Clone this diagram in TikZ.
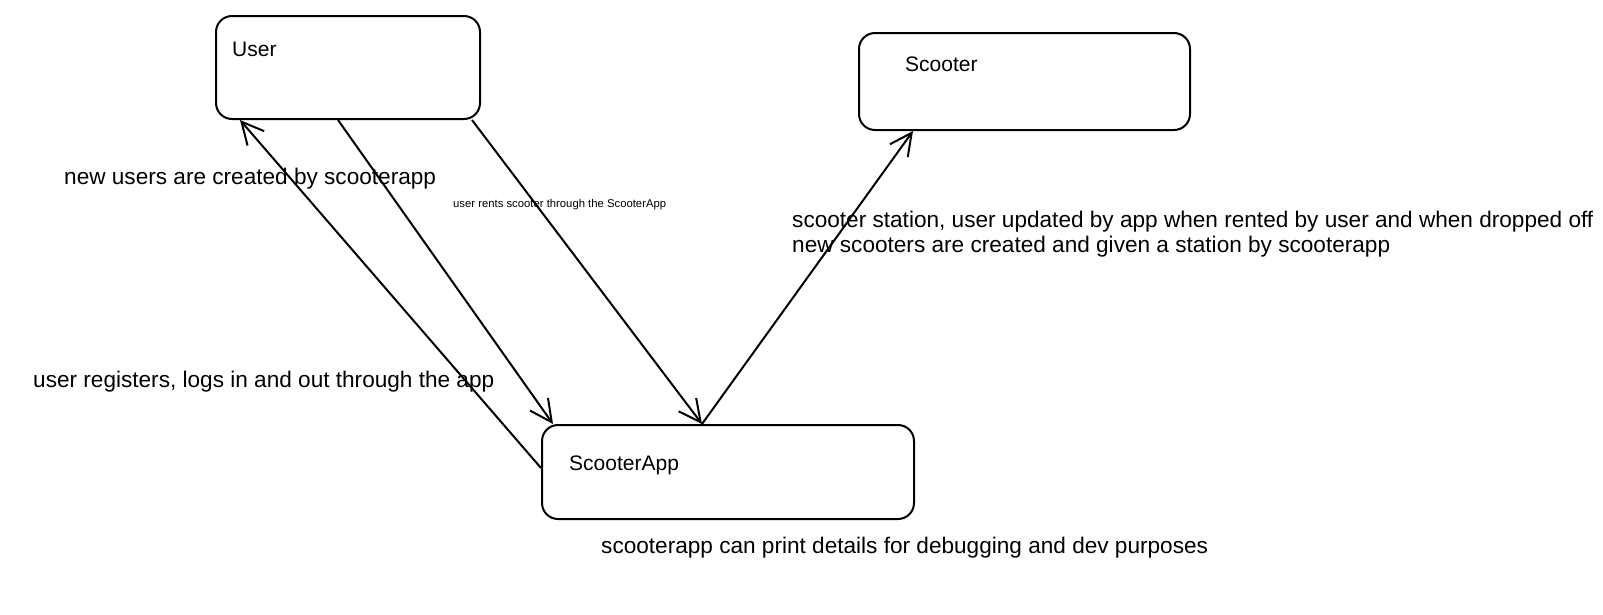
\documentclass[tikz,border=0pt]{standalone}
\usepackage{fontspec}
\setmainfont{Liberation Sans}
\usetikzlibrary{arrows.meta}
\tikzset{
  x=1pt, y=-1pt,
  box/.style={draw, line width=2pt, rounded corners=16pt, inner sep=0pt, anchor=north west},
  lbl/.style={anchor=west, inner sep=0pt, font=\fontsize{21}{25}\selectfont},
  note/.style={anchor=west, inner sep=0pt, font=\fontsize{22.6}{26}\selectfont},
  small/.style={anchor=west, inner sep=0pt, font=\fontsize{11.3}{13}\selectfont},
  conn/.style={line width=2pt, -{Straight Barb[length=22pt,width=22pt,line width=2pt]}},
}
\begin{document}
\begin{tikzpicture}
\useasboundingbox (0,0) rectangle (1603,614);
\node[box, minimum width=264pt, minimum height=103pt] (user) at (215,15) {};
\node[box, minimum width=331pt, minimum height=97pt] (scooter) at (858,32) {};
\node[box, minimum width=372pt, minimum height=94pt] (app) at (541,424) {};
\node[lbl] (tuser) at (232,49) {User};
\node[lbl] (tscooter) at (905,64) {Scooter};
\node[lbl] (tapp) at (569,465) {ScooterApp};
\draw[conn] ([yshift=4pt]app.west) -- ([xshift=25pt]user.south west);
\draw[conn] ([xshift=-10pt]user.south) -- ([xshift=12pt]app.north west);
\draw[conn] ([xshift=-9pt]user.south east) -- ([xshift=161pt]app.north west);
\draw[conn] ([xshift=161pt]app.north west) -- ([xshift=55pt]scooter.south west);
\node[note] (n1) at (64,179) {new users are created by scooterapp};
\node[small] (n2) at (453,205) {user rents scooter through the ScooterApp};
\node[note] (n3) at (792,222) {scooter station, user updated by app when rented by user and when dropped off};
\node[note] (n4) at (792,247) {new scooters are created and given a station by scooterapp};
\node[note] (n5) at (33,382) {user registers, logs in and out through the app};
\node[note] (n6) at (601,548) {scooterapp can print details for debugging and dev purposes};
\end{tikzpicture}
\end{document}
